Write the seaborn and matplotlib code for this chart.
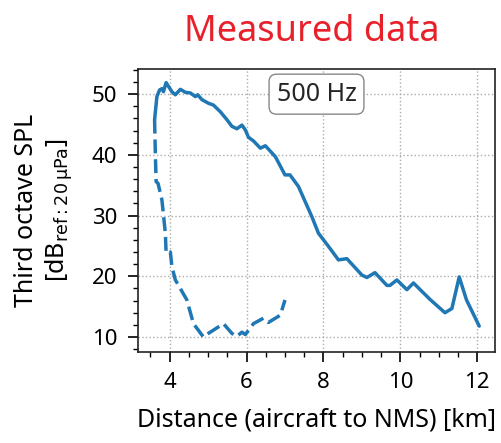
import numpy as np
import pandas as pd
import matplotlib
matplotlib.use("Agg")
import matplotlib.pyplot as plt
import seaborn as sns
from matplotlib.ticker import MultipleLocator

# Solid line: measured SPL vs distance
solid_km = [3.61, 3.67, 3.74, 3.80, 3.84, 3.91, 3.97, 4.06, 4.15, 4.28, 4.41, 4.54,
            4.67, 4.73, 4.84, 5.01, 5.14, 5.32, 5.49, 5.62, 5.75, 5.88, 5.97, 6.05,
            6.18, 6.36, 6.49, 6.75, 7.00, 7.13, 7.35, 7.70, 7.87, 8.17, 8.39, 8.61,
            9.00, 9.13, 9.34, 9.65, 9.73, 9.91, 10.17, 10.34, 10.77, 11.16, 11.34,
            11.53, 11.72, 12.05]
solid_db = [45.8, 49.6, 50.7, 50.9, 50.4, 51.9, 51.3, 50.4, 49.9, 50.8, 50.3, 50.2,
            49.6, 49.9, 49.1, 48.5, 48.2, 47.1, 45.8, 44.7, 44.3, 44.9, 44.1, 42.9,
            42.3, 41.1, 41.5, 39.7, 36.7, 36.7, 34.8, 29.8, 27.1, 24.6, 22.7, 22.9,
            20.2, 19.8, 20.6, 18.5, 18.5, 19.4, 17.8, 18.9, 16.2, 14.0, 14.7,
            19.9, 16.1, 11.8]

# Dashed line
dashed_km = [3.61, 3.63, 3.65, 3.70, 3.80, 3.89, 3.91, 4.02, 4.06, 4.15, 4.45, 4.62,
             4.88, 5.01, 5.40, 5.62, 5.75, 5.88, 5.97, 6.18, 6.44, 6.57, 6.88, 7.00]
dashed_db = [45.8, 40.0, 35.6, 35.3, 32.6, 27.1, 23.8, 24.0, 21.6, 19.4, 16.1, 12.2,
             10.0, 10.6, 12.2, 10.6, 10.1, 10.8, 10.4, 12.2, 13.1, 12.4, 13.6, 16.1]

x_ticks = [4, 6, 8, 10, 12]
y_ticks = [10, 20, 30, 40, 50]

solid = pd.DataFrame({"km": solid_km, "db": solid_db})
dashed = pd.DataFrame({"km": dashed_km, "db": dashed_db})

sns.set_style("ticks")
plt.rcParams["font.family"] = ["Noto Sans", "DejaVu Sans"]

fig, ax = plt.subplots(figsize=(5.02, 4.43), dpi=100)
fig.subplots_adjust(left=0.275, right=0.986, top=0.845, bottom=0.205)

color = "#1f77b4"
sns.lineplot(data=solid, x="km", y="db", ax=ax, color=color, linewidth=2.5,
             sort=False, estimator=None)
sns.lineplot(data=dashed, x="km", y="db", ax=ax, color=color, linewidth=2.5,
             linestyle=(0, (4, 1.7)), sort=False, estimator=None)

ax.set_xlim(3.18, 12.46)
ax.set_ylim(7.5, 54.2)
ax.set_xticks(x_ticks)
ax.set_yticks(y_ticks)
ax.xaxis.set_minor_locator(MultipleLocator(0.5))
ax.yaxis.set_minor_locator(MultipleLocator(2))
ax.tick_params(axis="both", which="major", labelsize=16, length=7, width=1.2,
               colors="black")
ax.tick_params(axis="x", which="major", pad=7)
ax.tick_params(axis="y", which="major", pad=8)
ax.tick_params(axis="both", which="minor", length=3.5, width=1.0, colors="black")
for s in ax.spines.values():
    s.set_linewidth(1.2)
    s.set_color("#222222")

ax.grid(True, which="major", linestyle=":", color="#aaaaaa", linewidth=1.0)

ax.set_xlabel("Distance (aircraft to NMS) [km]", fontsize=18, labelpad=11,
              color="black")
ax.set_ylabel("Third octave SPL\n[dB$_{\\mathrm{ref:20\\,\\mu Pa}}$]", fontsize=18,
              labelpad=12, color="black", linespacing=1.2)

ax.text(0.5, 0.91, "500 Hz", transform=ax.transAxes, ha="center", va="center",
        fontsize=18,
        bbox=dict(boxstyle="round,pad=0.3", facecolor="white", edgecolor="#888888",
                  linewidth=1.0))

fig.text(0.622, 0.928, "Measured data", ha="center", va="center", fontsize=26,
         color="#e8202a")

fig.savefig("out.png", dpi=100)
